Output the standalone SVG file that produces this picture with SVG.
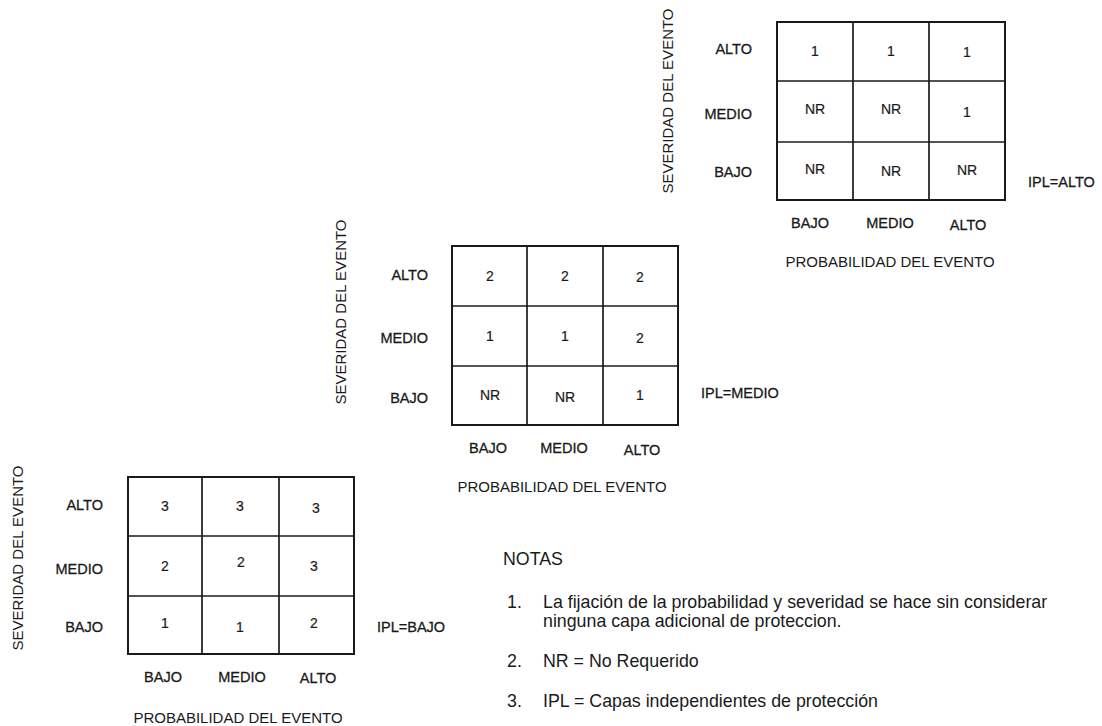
<svg xmlns="http://www.w3.org/2000/svg" width="1102" height="726" viewBox="0 0 1102 726">
<style>
text{font-family:"Liberation Sans",Arial,sans-serif;fill:#1a1a1a}
.frame{fill:none;stroke:#1a1a1a;stroke-width:2}
.grid{stroke:#1a1a1a;stroke-width:1.7}
.lbl{font-size:14.5px;stroke:#1a1a1a;stroke-width:0.3}
.rl{font-size:14.5px;text-anchor:end;stroke:#1a1a1a;stroke-width:0.3}
.cl{font-size:14.5px;text-anchor:middle;stroke:#1a1a1a;stroke-width:0.3}
.cv{font-size:14px;text-anchor:middle;stroke:#1a1a1a;stroke-width:0.2}
.ax{font-size:15px;text-anchor:middle}
.note{font-size:17.8px}
</style>
<rect width="1102" height="726" fill="#ffffff"/>

<g id="matrix-ipl-alto">
<rect class="frame" x="777" y="22" width="228" height="178"/>
<line class="grid" x1="853" y1="22" x2="853" y2="200"/>
<line class="grid" x1="929" y1="22" x2="929" y2="200"/>
<line class="grid" x1="777" y1="81" x2="1005" y2="81"/>
<line class="grid" x1="777" y1="142" x2="1005" y2="142"/>
<text class="ax" transform="translate(673,101) rotate(-90)">SEVERIDAD DEL EVENTO</text>
<text class="rl" x="752" y="54">ALTO</text>
<text class="rl" x="752" y="119">MEDIO</text>
<text class="rl" x="752" y="177">BAJO</text>
<text class="cv" x="815" y="56">1</text>
<text class="cv" x="891" y="56">1</text>
<text class="cv" x="967" y="57">1</text>
<text class="cv" x="815" y="114">NR</text>
<text class="cv" x="891" y="114">NR</text>
<text class="cv" x="967" y="117">1</text>
<text class="cv" x="815" y="174">NR</text>
<text class="cv" x="891" y="176">NR</text>
<text class="cv" x="967" y="175">NR</text>
<text class="cl" x="810" y="228">BAJO</text>
<text class="cl" x="890" y="228">MEDIO</text>
<text class="cl" x="968" y="230">ALTO</text>
<text class="ax" x="890" y="267">PROBABILIDAD DEL EVENTO</text>
<text class="lbl" x="1028" y="187">IPL=ALTO</text>
</g>

<g id="matrix-ipl-medio">
<rect class="frame" x="452" y="246" width="226" height="179"/>
<line class="grid" x1="527" y1="246" x2="527" y2="425"/>
<line class="grid" x1="603" y1="246" x2="603" y2="425"/>
<line class="grid" x1="452" y1="306" x2="678" y2="306"/>
<line class="grid" x1="452" y1="366" x2="678" y2="366"/>
<text class="ax" transform="translate(346,312) rotate(-90)">SEVERIDAD DEL EVENTO</text>
<text class="rl" x="428" y="280">ALTO</text>
<text class="rl" x="428" y="343">MEDIO</text>
<text class="rl" x="428" y="403">BAJO</text>
<text class="cv" x="490" y="281">2</text>
<text class="cv" x="565" y="281">2</text>
<text class="cv" x="640" y="282">2</text>
<text class="cv" x="490" y="341">1</text>
<text class="cv" x="565" y="341">1</text>
<text class="cv" x="640" y="343">2</text>
<text class="cv" x="490" y="400">NR</text>
<text class="cv" x="565" y="402">NR</text>
<text class="cv" x="640" y="400">1</text>
<text class="cl" x="488" y="453">BAJO</text>
<text class="cl" x="564" y="453">MEDIO</text>
<text class="cl" x="642" y="455">ALTO</text>
<text class="ax" x="562" y="492">PROBABILIDAD DEL EVENTO</text>
<text class="lbl" x="701" y="398">IPL=MEDIO</text>
</g>

<g id="matrix-ipl-bajo">
<rect class="frame" x="128" y="477" width="226" height="177"/>
<line class="grid" x1="202" y1="477" x2="202" y2="654"/>
<line class="grid" x1="279" y1="477" x2="279" y2="654"/>
<line class="grid" x1="128" y1="536" x2="354" y2="536"/>
<line class="grid" x1="128" y1="596" x2="354" y2="596"/>
<text class="ax" transform="translate(23,558) rotate(-90)">SEVERIDAD DEL EVENTO</text>
<text class="rl" x="103" y="510">ALTO</text>
<text class="rl" x="103" y="574">MEDIO</text>
<text class="rl" x="103" y="632">BAJO</text>
<text class="cv" x="165" y="511">3</text>
<text class="cv" x="240" y="511">3</text>
<text class="cv" x="316" y="513">3</text>
<text class="cv" x="165" y="571">2</text>
<text class="cv" x="241" y="567">2</text>
<text class="cv" x="314" y="571">3</text>
<text class="cv" x="165" y="628">1</text>
<text class="cv" x="240" y="632">1</text>
<text class="cv" x="314" y="628">2</text>
<text class="cl" x="163" y="682">BAJO</text>
<text class="cl" x="242" y="682">MEDIO</text>
<text class="cl" x="318" y="683">ALTO</text>
<text class="ax" x="238" y="723">PROBABILIDAD DEL EVENTO</text>
<text class="lbl" x="377" y="632">IPL=BAJO</text>
</g>

<g id="notes">
<text class="note" x="503" y="565">NOTAS</text>
<text class="note" x="507" y="608">1.</text>
<text class="note" x="543" y="608">La fijación de la probabilidad y severidad se hace sin considerar</text>
<text class="note" x="543" y="627">ninguna capa adicional de proteccion.</text>
<text class="note" x="507" y="667">2.</text>
<text class="note" x="543" y="667">NR = No Requerido</text>
<text class="note" x="507" y="707">3.</text>
<text class="note" x="543" y="707">IPL = Capas independientes de protección</text>
</g>
</svg>
